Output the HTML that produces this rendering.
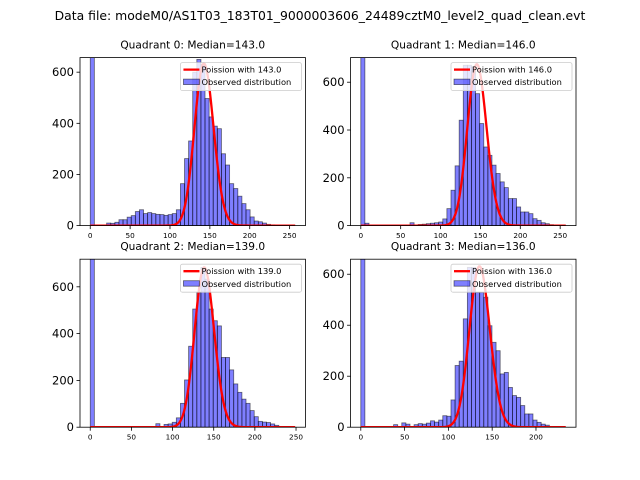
<!DOCTYPE html>
<html><head><meta charset="utf-8"><style>
html,body{margin:0;padding:0;background:#fff}
svg{display:block;font-family:"DejaVu Sans","Liberation Sans",sans-serif}
</style></head><body>
<svg id="chart" width="640" height="480" viewBox="0 0 640 480" xmlns="http://www.w3.org/2000/svg">
<rect width="640" height="480" fill="#fff"/>
<text x="320" y="20" text-anchor="middle" font-size="12.4">Data file: modeM0/AS1T03_183T01_9000003606_24489cztM0_level2_quad_clean.evt</text>
</svg>
<script>
// Data
const quadrantNames = ["Quadrant 0", "Quadrant 1", "Quadrant 2", "Quadrant 3"];
const medians = [143.0, 146.0, 139.0, 136.0];
const dataMax = [257, 257, 249, 234];
const poissonPeak = [634, 675, 683, 631];
const yMax = [657, 703, 718, 659];
const counts0 = [5000,0,0,2,10,9,13,23,23,33,39,55,62,47,51,47,44,43,40,43,47,62,164,262,331,600,650,630,497,425,389,379,281,237,164,145,115,86,62,34,18,15,10,5,3,2,1,1,0,0];
const counts1 = [5000,10,2,0,0,0,0,0,0,0,0,0,12,0,5,6,8,10,12,15,28,71,148,250,441,671,671,664,552,427,329,294,253,218,183,159,113,113,78,57,57,50,29,22,12,8,4,2,1,0];
const counts2 = [5000,0,0,0,0,0,0,0,0,0,0,0,0,0,0,0,15,0,12,14,21,40,102,202,346,505,576,683,633,505,455,433,298,298,245,185,149,120,102,71,45,25,22,20,14,8,3,1,0,0];
const counts3 = [5000,0,0,0,0,0,0,0,10,0,17,12,3,10,14,12,16,25,20,28,45,43,107,242,259,425,627,627,529,529,510,398,333,300,209,215,156,124,117,85,52,52,28,19,12,8,3,1,0,0];
const yTicks = [0, 200, 400, 600];
const xTicksA = [0, 50, 100, 150, 200, 250];
const xTicksB = [0, 50, 100, 150, 200];

const allCounts = [counts0, counts1, counts2, counts3];
const allXTicks = [xTicksA, xTicksA, xTicksA, xTicksB];
const NS = "http://www.w3.org/2000/svg";
const svg = document.getElementById("chart");
function mk(tag, attrs, parent) {
  const e = document.createElementNS(NS, tag);
  for (const k in attrs) e.setAttribute(k, attrs[k]);
  parent.appendChild(e);
  return e;
}
const lf = [0];
for (let i = 1; i < 400; i++) lf[i] = lf[i - 1] + Math.log(i);
function logPmf(k, mu) { return k * Math.log(mu) - mu - lf[k]; }

const axW = 225.45, axH = 168;
const lefts = [80, 350.55, 80, 350.55];
const tops = [57.6, 57.6, 259.2, 259.2];

for (let q = 0; q < 4; q++) {
  const L = lefts[q], T = tops[q], R = L + axW, B = T + axH;
  const R0 = dataMax[q];
  const xmin = -0.05 * R0, xmax = 1.05 * R0;
  const X = v => L + (v - xmin) / (xmax - xmin) * axW;
  const Y = v => B - v / yMax[q] * axH;
  const g = mk("g", {}, svg);
  
  
  const cp = mk("clipPath", { id: "cp" + q }, g);
  mk("rect", { x: L, y: T, width: axW, height: axH }, cp);
  const bars = mk("g", { "clip-path": "url(#cp" + q + ")" }, g);
  
  
  const counts = allCounts[q];
  const n = counts.length, w = R0 / n;
  for (let i = 0; i < n; i++) {
    const c = counts[i];
    if (c <= 0) continue;
    const r = mk("rect", { x: X(i * w), y: Y(c), width: X((i + 1) * w) - X(i * w), height: Y(0) - Y(c), fill: "rgba(0,0,255,0.5)", stroke: "rgba(0,0,0,0.55)", "stroke-width": 0.8 }, bars);
    
    
  }
  const mu = medians[q], lm = logPmf(Math.round(mu), mu);
  let d = "";
  for (let k = 0; k <= Math.round(R0); k++) {
    const v = poissonPeak[q] * Math.exp(logPmf(k, mu) - lm);
    d += (k ? "L" : "M") + X(k).toFixed(2) + "," + Y(v).toFixed(2);
  }
  const line = mk("path", { d: d, fill: "none", stroke: "#ff0000", "stroke-width": 2.3, "stroke-linejoin": "round" }, bars);
  
  
  const frame = mk("rect", { x: L, y: T, width: axW, height: axH, fill: "none", stroke: "#000", "stroke-width": 0.8 }, g);
  
  
  for (const t of yTicks) {
    mk("line", { x1: L, x2: L - 3.5, y1: Y(t), y2: Y(t), stroke: "#000", "stroke-width": 0.8 }, g);
    const tx = mk("text", { x: L - 6, y: Y(t) + 4, "text-anchor": "end", "font-size": 11.5 }, g);
    tx.textContent = t;
    
    
  }
  for (const t of allXTicks[q]) {
    mk("line", { x1: X(t), x2: X(t), y1: B, y2: B + 3.5, stroke: "#000", "stroke-width": 0.8 }, g);
    const tx = mk("text", { x: X(t), y: B + 12.5, "text-anchor": "middle", "font-size": 7.3 }, g);
    tx.textContent = t;
    
    
  }
  const title = mk("text", { x: L + axW / 2, y: T - 9, "text-anchor": "middle", "font-size": 10.6 }, g);
  title.textContent = quadrantNames[q] + ": Median=" + mu.toFixed(1);
  
  
  const lg = mk("g", {}, g);
  
  
  const lx = R - 125, ly = T + 5;
  mk("rect", { x: lx, y: ly, width: 121, height: 28, rx: 2, fill: "rgba(255,255,255,0.8)", stroke: "#ccc", "stroke-width": 0.8 }, lg);
  mk("line", { x1: lx + 3, x2: lx + 19, y1: ly + 7, y2: ly + 7, stroke: "#ff0000", "stroke-width": 2.3 }, lg);
  const t1 = mk("text", { x: lx + 21, y: ly + 9.8, "font-size": 8.3 }, lg);
  t1.textContent = "Poission with " + mu.toFixed(1);
  
  
  mk("rect", { x: lx + 3, y: ly + 16.5, width: 16, height: 5.5, fill: "rgba(0,0,255,0.5)", stroke: "rgba(0,0,0,0.55)", "stroke-width": 0.8 }, lg);
  const t2 = mk("text", { x: lx + 21, y: ly + 22.6, "font-size": 8.3 }, lg);
  t2.textContent = "Observed distribution";
  
  
}
</script>
</body></html>
